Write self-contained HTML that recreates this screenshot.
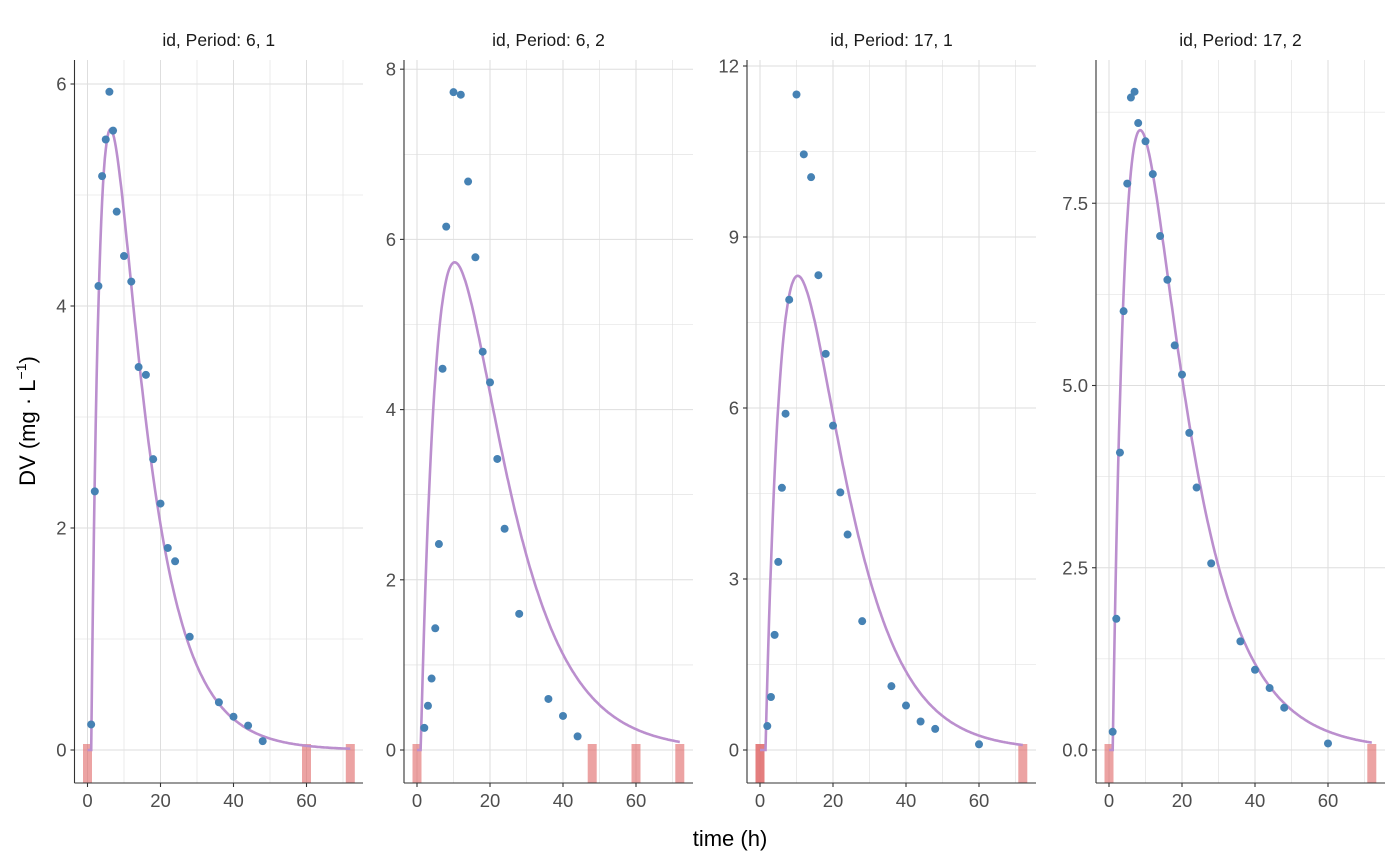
<!DOCTYPE html>
<html><head><meta charset="utf-8"><style>
html,body{margin:0;padding:0;background:#fff;}
svg{display:block;font-family:"Liberation Sans",Arial,sans-serif;}
</style></head><body>
<svg id="s" width="1400" height="866" xmlns="http://www.w3.org/2000/svg"></svg>
<script>
const S=document.getElementById('s');let h='';
const panels=[
 {L:74.5,R:363,title:"id, Period: 6, 1",y0:750,sc:111,ticks:[0,2,4,6],minor:[1,3,5],top:7.3,lab:v=>String(v),
  lag:1,ka:0.32,ke:0.1,A:13.8,doses:[0,60,72],
  pts:[[1,0.23],[2,2.33],[3,4.18],[4,5.17],[5,5.5],[6,5.93],[7,5.58],[8,4.85],[10,4.45],[12,4.22],[14,3.45],[16,3.38],[18,2.62],[20,2.22],[22,1.82],[24,1.7],[28,1.02],[36,0.43],[40,0.3],[44,0.22],[48,0.08]]},
 {L:404,R:693,title:"id, Period: 6, 2",y0:750,sc:85.1,ticks:[0,2,4,6,8],minor:[1,3,5,7],top:8.6,lab:v=>String(v),
  lag:1,ka:0.14,ke:0.08,A:28.2,doses:[0,48,60,72],
  pts:[[2,0.26],[3,0.52],[4,0.84],[5,1.43],[6,2.42],[7,4.48],[8,6.15],[10,7.73],[12,7.7],[14,6.68],[16,5.79],[18,4.68],[20,4.32],[22,3.42],[24,2.6],[28,1.6],[36,0.6],[40,0.4],[44,0.16]]},
 {L:747,R:1036,title:"id, Period: 17, 1",y0:750,sc:57,ticks:[0,3,6,9,12],minor:[1.5,4.5,7.5,10.5],top:12.6,lab:v=>String(v),
  lag:1.5,ka:0.14,ke:0.09,A:51.6,doses:[0,0,72],
  pts:[[2,0.42],[3,0.93],[4,2.02],[5,3.3],[6,4.6],[7,5.9],[8,7.9],[10,11.5],[12,10.45],[14,10.05],[16,8.33],[18,6.95],[20,5.69],[22,4.52],[24,3.78],[28,2.26],[36,1.12],[40,0.78],[44,0.5],[48,0.37],[60,0.1]]},
 {L:1096,R:1385,title:"id, Period: 17, 2",y0:750,sc:72.9,ticks:[0,2.5,5,7.5],minor:[1.25,3.75,6.25,8.75],top:9.9,lab:v=>v.toFixed(1),
  lag:1,ka:0.21,ke:0.077,A:24.0,doses:[0,72],
  pts:[[1,0.25],[2,1.8],[3,4.08],[4,6.02],[5,7.77],[6,8.95],[7,9.03],[8,8.6],[10,8.35],[12,7.9],[14,7.05],[16,6.45],[18,5.55],[20,5.15],[22,4.35],[24,3.6],[28,2.56],[36,1.49],[40,1.1],[44,0.85],[48,0.58],[60,0.09]]}
];
const TOP=60,BOT=783,K=3.65;
for(const p of panels){
 const X=t=>p.L+13+t*K, Y=v=>p.y0-v*p.sc;
 for(let t=0;t<=70;t+=10) h+=`<line x1="${X(t)}" x2="${X(t)}" y1="${TOP}" y2="${BOT}" stroke="#dedede" stroke-width="${t%20?0.6:1}"/>`;
 for(const v of p.minor) if(Y(v)>TOP) h+=`<line x1="${p.L}" x2="${p.R}" y1="${Y(v)}" y2="${Y(v)}" stroke="#dedede" stroke-width="0.6"/>`;
 for(const v of p.ticks) h+=`<line x1="${p.L}" x2="${p.R}" y1="${Y(v)}" y2="${Y(v)}" stroke="#dedede" stroke-width="1"/>`;
 for(const d of p.doses) h+=`<rect x="${X(d)-4.5}" y="744" width="9" height="${BOT-744}" fill="#e06666" opacity="0.6"/>`;
 let c='';for(let t=p.lag;t<=72;t+=0.25){const tt=t-p.lag;const v=p.A*(Math.exp(-p.ke*tt)-Math.exp(-p.ka*tt));c+='L'+X(t).toFixed(1)+','+Y(v).toFixed(1);}
 h+=`<path d="M${X(0)},${Y(0)}${c}" fill="none" stroke="#bb8fce" stroke-width="2.6"/>`;
 for(const [t,v] of p.pts) h+=`<circle cx="${X(t)}" cy="${Y(v)}" r="4" fill="#4682b4"/>`;
 h+=`<line x1="${p.L}" x2="${p.L}" y1="${TOP}" y2="${BOT}" stroke="#333" stroke-width="1.1"/>`;
 h+=`<line x1="${p.L}" x2="${p.R}" y1="${BOT}" y2="${BOT}" stroke="#333" stroke-width="1.1"/>`;
 for(const v of p.ticks){h+=`<line x1="${p.L-4}" x2="${p.L}" y1="${Y(v)}" y2="${Y(v)}" stroke="#333" stroke-width="1.1"/>`;
  h+=`<text x="${p.L-8}" y="${Y(v)+6.5}" text-anchor="end" font-size="18.5" fill="#4d4d4d">${p.lab(v)}</text>`;}
 for(const t of [0,20,40,60]){h+=`<line x1="${X(t)}" x2="${X(t)}" y1="${BOT}" y2="${BOT+4}" stroke="#333" stroke-width="1.1"/>`;
  h+=`<text x="${X(t)}" y="${BOT+24}" text-anchor="middle" font-size="18.5" fill="#4d4d4d">${t}</text>`;}
 h+=`<text x="${(p.L+p.R)/2}" y="46" text-anchor="middle" font-size="17.5" fill="#1a1a1a">${p.title}</text>`;
}
h+=`<text x="730" y="846" text-anchor="middle" font-size="22" fill="#000">time (h)</text>`;
h+=`<text transform="translate(35,421) rotate(-90)" text-anchor="middle" font-size="22" fill="#000">DV (mg · L<tspan font-size="14" dy="-9">−1</tspan><tspan dy="9">)</tspan></text>`;
S.innerHTML=h;
</script>
</body></html>
